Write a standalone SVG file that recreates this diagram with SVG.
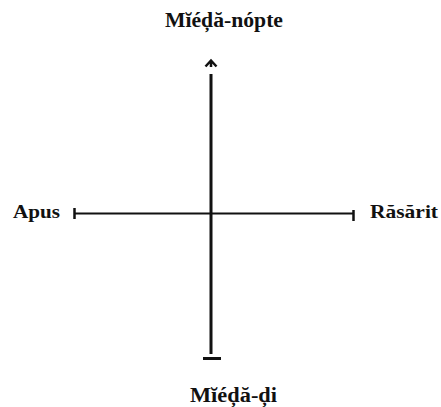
<svg xmlns="http://www.w3.org/2000/svg" width="441" height="407" viewBox="0 0 441 407">
<style>
.t{font-family:"Liberation Serif","DejaVu Serif",serif;font-weight:bold;fill:#111;}
.l{stroke:#111;fill:none;}
</style>
<rect width="441" height="407" fill="#fff"/>
<g id="connectors">
<line class="l" x1="211" y1="74" x2="211" y2="354" stroke-width="3"/>
<line class="l" x1="75" y1="213.5" x2="353" y2="213.5" stroke-width="2.2"/>
<path class="l" d="M205.5 66.5 L211 60.5 L216.5 66.5 M211 61 V67" stroke-width="2.5"/>
<line class="l" x1="203" y1="358.5" x2="221" y2="358.5" stroke-width="3"/>
<line class="l" x1="74.5" y1="208" x2="74.5" y2="219" stroke-width="2.5"/>
<line class="l" x1="353.5" y1="210" x2="353.5" y2="221" stroke-width="2.5"/>
</g>
<g id="north"><text class="t" x="165" y="27" font-size="20" textLength="118" lengthAdjust="spacingAndGlyphs">Mĭéḑă-nópte</text></g>
<g id="south"><text class="t" x="190" y="402" font-size="20" textLength="87" lengthAdjust="spacingAndGlyphs">Mĭéḑă-ḑi</text></g>
<g id="west"><text class="t" x="13" y="218" font-size="18" textLength="47" lengthAdjust="spacingAndGlyphs">Apus</text></g>
<g id="east"><text class="t" x="370" y="218" font-size="19" textLength="68" lengthAdjust="spacingAndGlyphs">Răsărit</text></g>
</svg>
